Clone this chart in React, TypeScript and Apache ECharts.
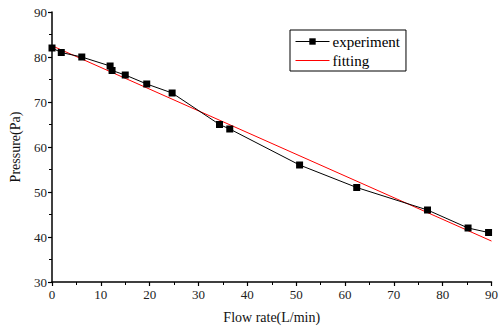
import React, { useEffect, useRef } from "react";
import * as echarts from "echarts";

const flowRate = [0, 1.9, 6.1, 11.9, 12.3, 15.0, 19.4, 24.6, 34.3, 36.4, 50.7, 62.4, 76.9, 85.2, 89.4];
const pressure = [82.0, 81.0, 80.0, 78.0, 77.0, 76.0, 74.0, 72.0, 65.0, 64.0, 56.0, 51.0, 46.0, 42.0, 41.0];
const fitX = [0, 90];
const fitY = [82.5, 39.1];

export default function App() {
  const ref = useRef<HTMLDivElement>(null);
  useEffect(() => {
    if (!ref.current) return;
    const chart = echarts.init(ref.current, undefined, { renderer: "svg" });
    const font = "Liberation Serif";
    const axisCommon = {
      axisLine: { show: true, lineStyle: { color: "#000", width: 1.5 } },
      axisTick: { show: true, inside: false, length: 4, lineStyle: { color: "#000", width: 1.2 } },
      minorTick: { show: true, splitNumber: 2, length: 3, lineStyle: { color: "#000", width: 1 } },
      splitLine: { show: false },
      axisLabel: { color: "#222", fontFamily: font, fontSize: 13 },
      nameTextStyle: { color: "#111", fontFamily: font, fontSize: 14 },
    };
    chart.setOption({
      animation: false,
      backgroundColor: "#fff",
      grid: { left: 51, top: 12, width: 444, height: 270, containLabel: false },
      xAxis: {
        type: "value",
        min: 0,
        max: 90,
        interval: 10,
        name: "Flow rate(L/min)",
        nameLocation: "middle",
        nameGap: 28,
        ...axisCommon,
        axisLabel: { ...axisCommon.axisLabel, margin: 6 },
      },
      yAxis: {
        type: "value",
        min: 30,
        max: 90,
        interval: 10,
        name: "Pressure(Pa)",
        nameLocation: "middle",
        nameGap: 30,
        ...axisCommon,
        axisLabel: { ...axisCommon.axisLabel, margin: 5 },
      },
      legend: {
        orient: "vertical",
        left: 290,
        top: 30,
        padding: [4, 6, 3, 5],
        itemGap: 4,
        itemWidth: 34,
        itemHeight: 8,
        borderColor: "#000",
        borderWidth: 1,
        borderRadius: 0,
        textStyle: { color: "#000", fontFamily: font, fontSize: 15, padding: [0, 0, 0, -2], lineHeight: 14 },
        data: [
          { name: "experiment", lineStyle: { width: 1 } },
          { name: "fitting", itemStyle: { opacity: 0 }, lineStyle: { width: 1 } },
        ],
      },
      series: [
        {
          name: "experiment",
          type: "line",
          data: flowRate.map((x, i) => [x, pressure[i]]),
          symbol: "rect",
          symbolSize: 7,
          itemStyle: { color: "#000" },
          lineStyle: { color: "#000", width: 1 },
          z: 3,
        },
        {
          name: "fitting",
          type: "line",
          data: fitX.map((x, i) => [x, fitY[i]]),
          symbol: "none",
          itemStyle: { color: "#ff0000" },
          lineStyle: { color: "#ff0000", width: 1 },
          z: 2,
        },
      ],
    });
    return () => chart.dispose();
  }, []);
  return <div ref={ref} style={{ width: 501, height: 331, position: "absolute", left: 0, top: 0 }} />;
}
